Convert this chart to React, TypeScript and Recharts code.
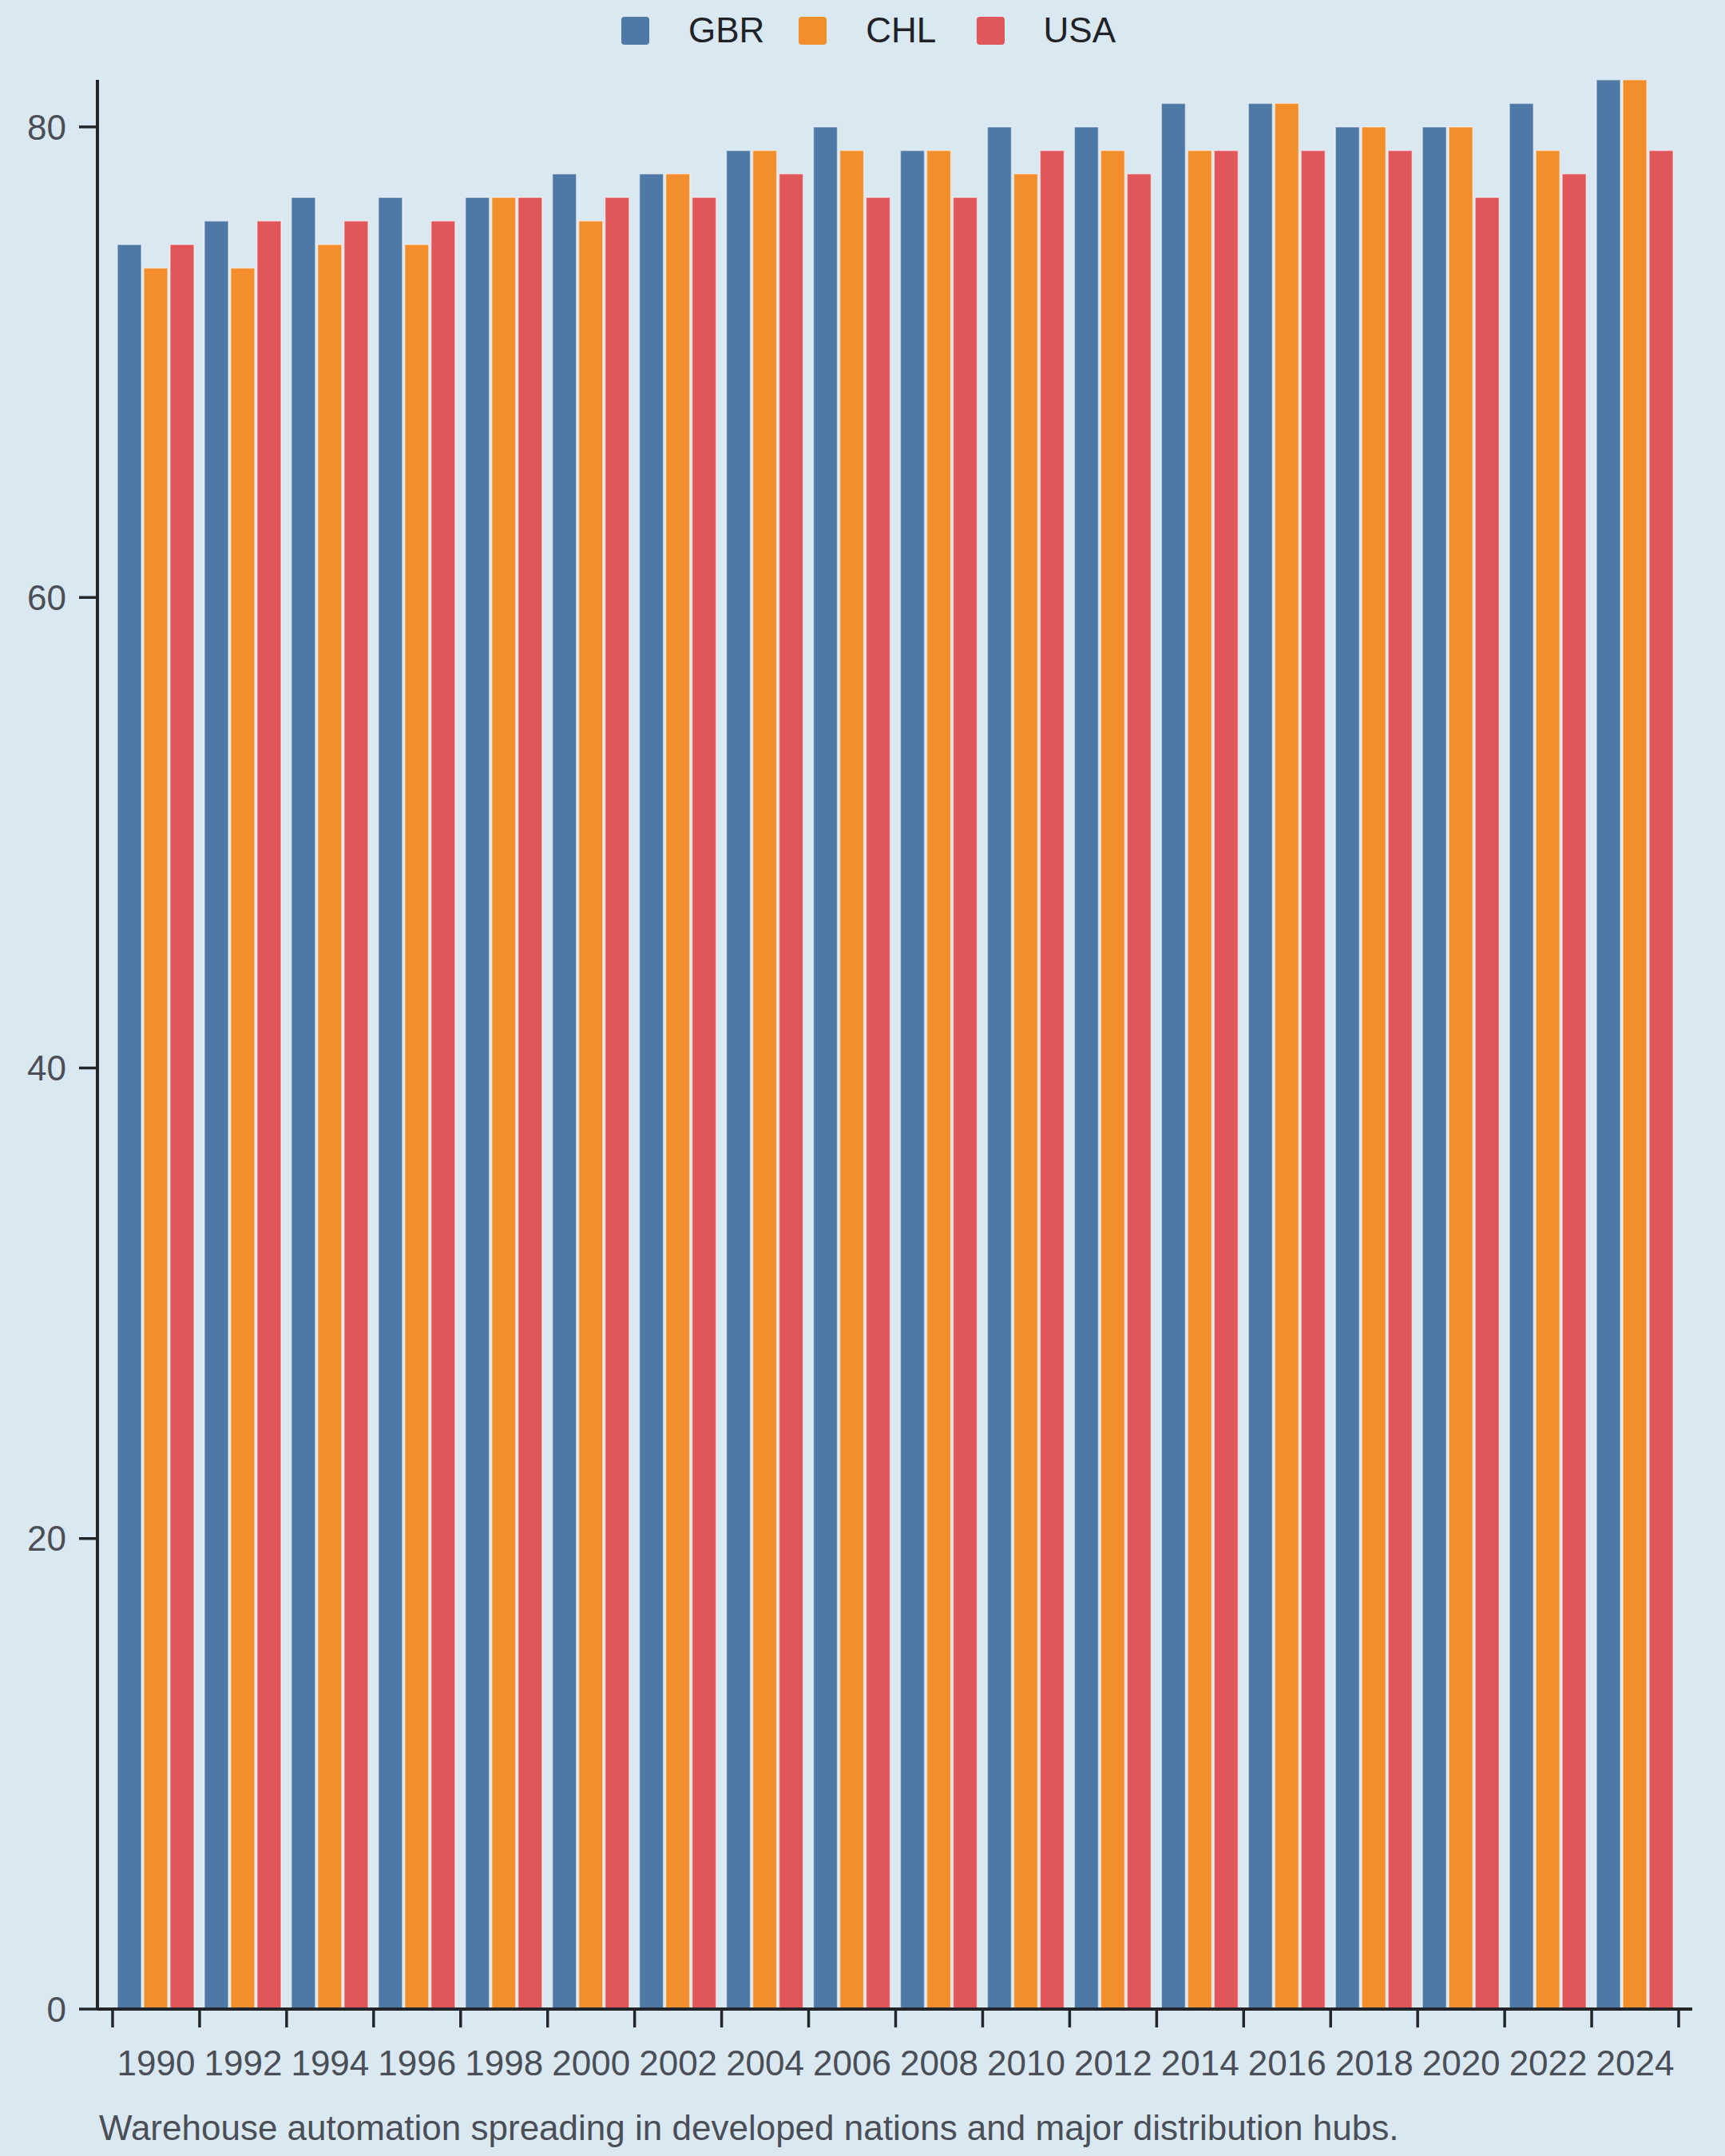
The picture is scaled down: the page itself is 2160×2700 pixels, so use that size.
import { BarChart, Bar, XAxis, YAxis } from "recharts";

const years = [
  "1990", "1992", "1994", "1996", "1998", "2000", "2002", "2004", "2006",
  "2008", "2010", "2012", "2014", "2016", "2018", "2020", "2022", "2024",
];
const gbr = [75, 76, 77, 77, 77, 78, 78, 79, 80, 79, 80, 80, 81, 81, 80, 80, 81, 82];
const chl = [74, 74, 75, 75, 77, 76, 78, 79, 79, 79, 78, 79, 79, 81, 80, 80, 79, 82];
const usa = [75, 76, 76, 76, 77, 77, 77, 78, 77, 77, 79, 78, 79, 79, 79, 77, 78, 79];
const yTicks = [0, 20, 40, 60, 80];
const caption = "Warehouse automation spreading in developed nations and major distribution hubs.";

const series = [
  { key: "GBR", color: "#4e79a7" },
  { key: "CHL", color: "#f28e2b" },
  { key: "USA", color: "#e15759" },
];

const data = years.map((year, i) => ({ year, GBR: gbr[i], CHL: chl[i], USA: usa[i] }));

const BG = "#dae8f1";
const AXIS = "#22262b";
const TICK_TEXT = "#4a4f57";
const FONT = "'Liberation Sans', Arial, sans-serif";
const TICK_SIZE = 23;
const X_TICK_MARGIN = 29;

function XTick(props: any) {
  const { x, y, payload, index } = props;
  const half = payload && payload.offset ? payload.offset : 54.5;
  const top = y - X_TICK_MARGIN - TICK_SIZE;
  const bottom = y - X_TICK_MARGIN;
  return (
    <g>
      <line x1={x - half} x2={x - half} y1={top} y2={bottom} stroke={AXIS} strokeWidth={3.5} />
      {index === years.length - 1 && (
        <line x1={x + half} x2={x + half} y1={top} y2={bottom} stroke={AXIS} strokeWidth={3.5} />
      )}
      <text x={x} y={y} dy="0.71em" textAnchor="middle" fill={TICK_TEXT} fontSize={44} fontFamily={FONT}>
        {payload.value}
      </text>
    </g>
  );
}

export default function App() {
  return (
    <div
      style={{
        position: "absolute",
        left: 0,
        top: 0,
        width: 2160,
        height: 2700,
        background: BG,
        fontFamily: FONT,
        overflow: "hidden",
      }}
    >
      <div style={{ position: "absolute", left: 778, top: 16, display: "flex", height: 44 }}>
        {series.map((s) => (
          <div key={s.key} style={{ width: 222.3, display: "flex", alignItems: "center" }}>
            <div style={{ width: 35, height: 35, borderRadius: 4, background: s.color, marginRight: 49 }} />
            <span style={{ fontSize: 44, lineHeight: "44px", color: "#1f2328" }}>{s.key}</span>
          </div>
        ))}
      </div>

      <div style={{ position: "absolute", left: 0, top: 0 }}>
        <BarChart
          width={2160}
          height={2700}
          data={data}
          margin={{ top: 100, right: 41, bottom: 84, left: 0 }}
          barCategoryGap={6}
          barGap={3}
        >
          <XAxis
            dataKey="year"
            interval={0}
            height={100}
            padding={{ left: 19, right: 17 }}
            tickLine={false}
            tickSize={TICK_SIZE}
            tickMargin={X_TICK_MARGIN}
            axisLine={{ stroke: AXIS, strokeWidth: 4 }}
            tick={<XTick />}
          />
          <YAxis
            width={122}
            domain={[0, 82]}
            ticks={yTicks}
            allowDataOverflow
            tickSize={TICK_SIZE}
            tickMargin={16}
            axisLine={{ stroke: AXIS, strokeWidth: 4 }}
            tickLine={{ stroke: AXIS, strokeWidth: 3.5 }}
            tick={{ fill: TICK_TEXT, fontSize: 44, fontFamily: FONT }}
          />
          {series.map((s) => (
            <Bar
              key={s.key}
              dataKey={s.key}
              fill={s.color}
              stroke="rgba(255,255,255,0.45)"
              strokeWidth={1.5}
              isAnimationActive={false}
            />
          ))}
        </BarChart>
      </div>

      <div
        style={{
          position: "absolute",
          left: 124,
          top: 2643,
          fontSize: 44,
          lineHeight: "44px",
          color: TICK_TEXT,
          whiteSpace: "nowrap",
        }}
      >
        {caption}
      </div>
    </div>
  );
}
